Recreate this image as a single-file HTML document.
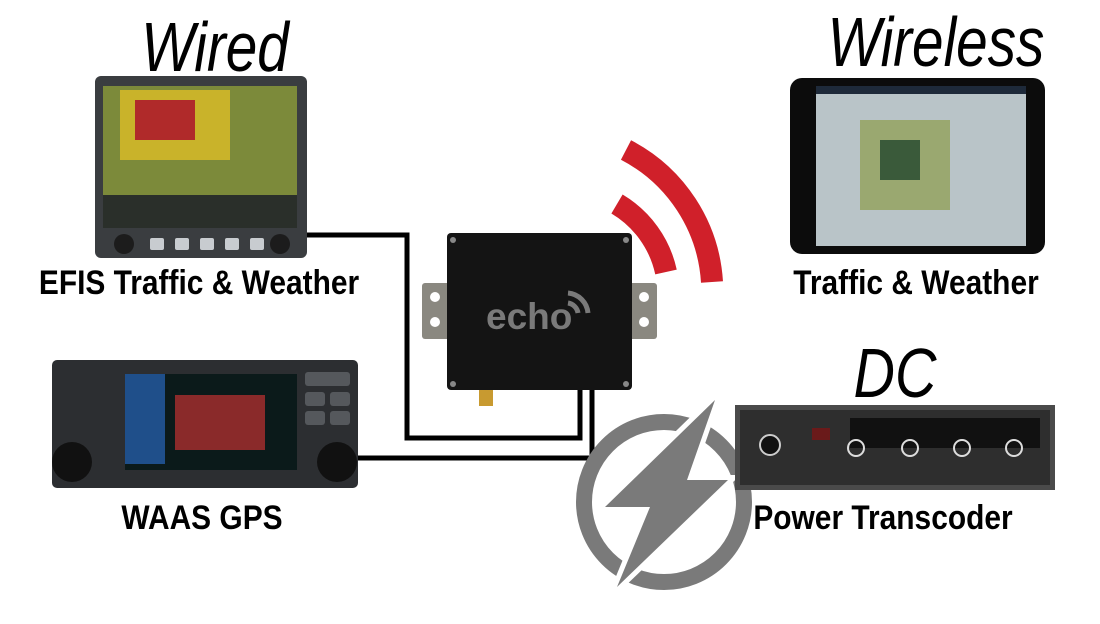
<!DOCTYPE html>
<html><head><meta charset="utf-8"><style>
html,body{margin:0;padding:0;background:#fff;}
svg{display:block}
text{font-family:"Liberation Sans",sans-serif}
</style></head><body>
<svg width="1100" height="624" viewBox="0 0 1100 624" xmlns="http://www.w3.org/2000/svg">
<!-- titles -->
<text x="215" y="71" font-size="70" font-style="italic" text-anchor="middle" transform="translate(215 0) scale(0.81 1) translate(-215 0)">Wired</text>
<text x="936" y="66" font-size="70" font-style="italic" text-anchor="middle" transform="translate(936 0) scale(0.81 1) translate(-936 0)">Wireless</text>
<text x="895" y="397" font-size="70" font-style="italic" text-anchor="middle" transform="translate(895 0) scale(0.82 1) translate(-895 0)">DC</text>

<!-- wires -->
<g fill="none" stroke="#000" stroke-width="5">
<polyline points="305,235 407,235 407,438 580,438 580,390"/>
<polyline points="355,458 592,458 592,390"/>
</g>

<!-- EFIS -->
<rect x="95" y="76" width="212" height="182" rx="6" fill="#3a3d40"/>
<rect x="103" y="86" width="194" height="142" fill="#7c8a3a"/>
<rect x="120" y="90" width="110" height="70" fill="#c9b32a"/>
<rect x="135" y="100" width="60" height="40" fill="#b02a2a"/>
<rect x="103" y="195" width="194" height="33" fill="#2a2f2a"/>
<g fill="#c8ccd0"><rect x="150" y="238" width="14" height="12" rx="2"/><rect x="175" y="238" width="14" height="12" rx="2"/><rect x="200" y="238" width="14" height="12" rx="2"/><rect x="225" y="238" width="14" height="12" rx="2"/><rect x="250" y="238" width="14" height="12" rx="2"/></g>
<circle cx="124" cy="244" r="10" fill="#1c1c1c"/><circle cx="280" cy="244" r="10" fill="#1c1c1c"/>
<text x="199" y="294" font-size="34" font-weight="bold" text-anchor="middle" transform="translate(199 0) scale(0.88 1) translate(-199 0)">EFIS Traffic &amp; Weather</text>

<!-- GPS -->
<rect x="52" y="360" width="306" height="128" rx="5" fill="#2c2e31"/>
<rect x="125" y="374" width="172" height="96" fill="#0b1a1a"/>
<rect x="125" y="374" width="40" height="90" fill="#1f4f8a"/>
<rect x="175" y="395" width="90" height="55" fill="#8a2a2a"/>
<circle cx="72" cy="462" r="20" fill="#111"/><circle cx="337" cy="462" r="20" fill="#111"/>
<g fill="#55585c"><rect x="305" y="372" width="45" height="14" rx="3"/><rect x="305" y="392" width="20" height="14" rx="3"/><rect x="330" y="392" width="20" height="14" rx="3"/><rect x="305" y="411" width="20" height="14" rx="3"/><rect x="330" y="411" width="20" height="14" rx="3"/></g>
<text x="202" y="529" font-size="34" font-weight="bold" text-anchor="middle" transform="translate(202 0) scale(0.88 1) translate(-202 0)">WAAS GPS</text>

<!-- red waves -->
<g fill="none" stroke="#d0202a" stroke-width="22">
<path d="M 626 150 A 160 160 0 0 1 712 282"/>
<path d="M 617 204 A 105 105 0 0 1 666 272"/>
</g>

<!-- echo box -->
<rect x="422" y="283" width="30" height="56" rx="3" fill="#8a8880"/>
<rect x="627" y="283" width="30" height="56" rx="3" fill="#8a8880"/>
<circle cx="435" cy="297" r="5" fill="#fff"/><circle cx="435" cy="322" r="5" fill="#fff"/>
<circle cx="644" cy="297" r="5" fill="#fff"/><circle cx="644" cy="322" r="5" fill="#fff"/>
<rect x="447" y="233" width="185" height="157" rx="4" fill="#141414"/>
<g fill="#888"><circle cx="453" cy="240" r="3"/><circle cx="626" cy="240" r="3"/><circle cx="453" cy="384" r="3"/><circle cx="626" cy="384" r="3"/></g>
<rect x="479" y="390" width="14" height="16" fill="#c89a30"/>
<text x="486" y="329" font-size="37" font-weight="bold" fill="#7a7a7a">echo</text>
<g fill="none" stroke="#7a7a7a" stroke-width="5"><path d="M 568 303 A 12 12 0 0 1 578 313"/><path d="M 568 293 A 22 22 0 0 1 588 313"/></g>

<!-- power circle -->
<circle cx="664" cy="502" r="80" fill="none" stroke="#7a7a7a" stroke-width="16"/>
<polygon points="715,400 605,507 650,507 617,587 728,480 687,480" fill="#7a7a7a" stroke="#fff" stroke-width="10" paint-order="stroke" stroke-linejoin="miter"/>

<!-- iPad -->
<rect x="790" y="78" width="255" height="176" rx="12" fill="#0c0c0c"/>
<rect x="816" y="86" width="210" height="160" fill="#b9c4c8"/>
<rect x="816" y="86" width="210" height="8" fill="#1e2a3a"/>
<rect x="860" y="120" width="90" height="90" fill="#9aa870"/>
<rect x="880" y="140" width="40" height="40" fill="#3a5a3a"/>
<text x="916" y="294" font-size="34" font-weight="bold" text-anchor="middle" transform="translate(916 0) scale(0.88 1) translate(-916 0)">Traffic &amp; Weather</text>

<!-- transcoder -->
<rect x="735" y="405" width="320" height="85" fill="#4a4a4a"/>
<rect x="740" y="410" width="310" height="75" fill="#2e2e2e"/>
<rect x="850" y="418" width="190" height="30" fill="#111"/>
<g fill="none" stroke="#ddd" stroke-width="2"><circle cx="856" cy="448" r="8"/><circle cx="910" cy="448" r="8"/><circle cx="962" cy="448" r="8"/><circle cx="1014" cy="448" r="8"/></g>
<circle cx="770" cy="445" r="10" fill="#111" stroke="#ccc" stroke-width="2"/>
<rect x="812" y="428" width="18" height="12" fill="#6a1a1a"/>
<text x="883" y="529" font-size="34" font-weight="bold" text-anchor="middle" transform="translate(883 0) scale(0.88 1) translate(-883 0)">Power Transcoder</text>
</svg>
</body></html>
